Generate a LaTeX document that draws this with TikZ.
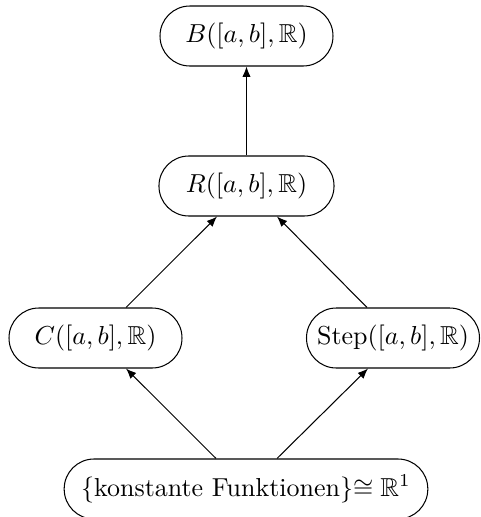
\documentclass[tikz,border=0pt]{standalone}
\usepackage{amssymb}
\usetikzlibrary{arrows.meta}
\begin{document}
\begin{tikzpicture}[x=0.385pt,y=-0.385pt,
  setbox/.style={draw,rectangle,rounded corners=11.5pt,minimum height=23.1pt,minimum width=66.6pt,inner xsep=2pt,inner ysep=0pt,line width=0.4pt},
  arr/.style={-{Latex[length=4pt,width=3.2pt]},line width=0.4pt}]
\useasboundingbox (0,0) rectangle (481,517);
\node[setbox] (B) at (246.5,36) {$B([a,b],\mathbb{R})$};
\node[setbox,minimum width=67.4pt] (R) at (246.5,186) {$R([a,b],\mathbb{R})$};
\node[setbox] (C) at (95.5,338) {$C([a,b],\mathbb{R})$};
\node[setbox] (S) at (393,338) {Step$([a,b],\mathbb{R})$};
\node[setbox,minimum width=140pt] (K) at (246,489) {\{konstante Funktionen\}$\cong\mathbb{R}^1$};
\draw[arr] (216,0 |- K.north) -- (126,0 |- C.south);
\draw[arr] (277,0 |- K.north) -- (368,0 |- S.south);
\draw[arr] (126,0 |- C.north) -- (217,0 |- R.south);
\draw[arr] (367,0 |- S.north) -- (277,0 |- R.south);
\draw[arr] (R.north) -- (B.south);
\end{tikzpicture}
\end{document}
